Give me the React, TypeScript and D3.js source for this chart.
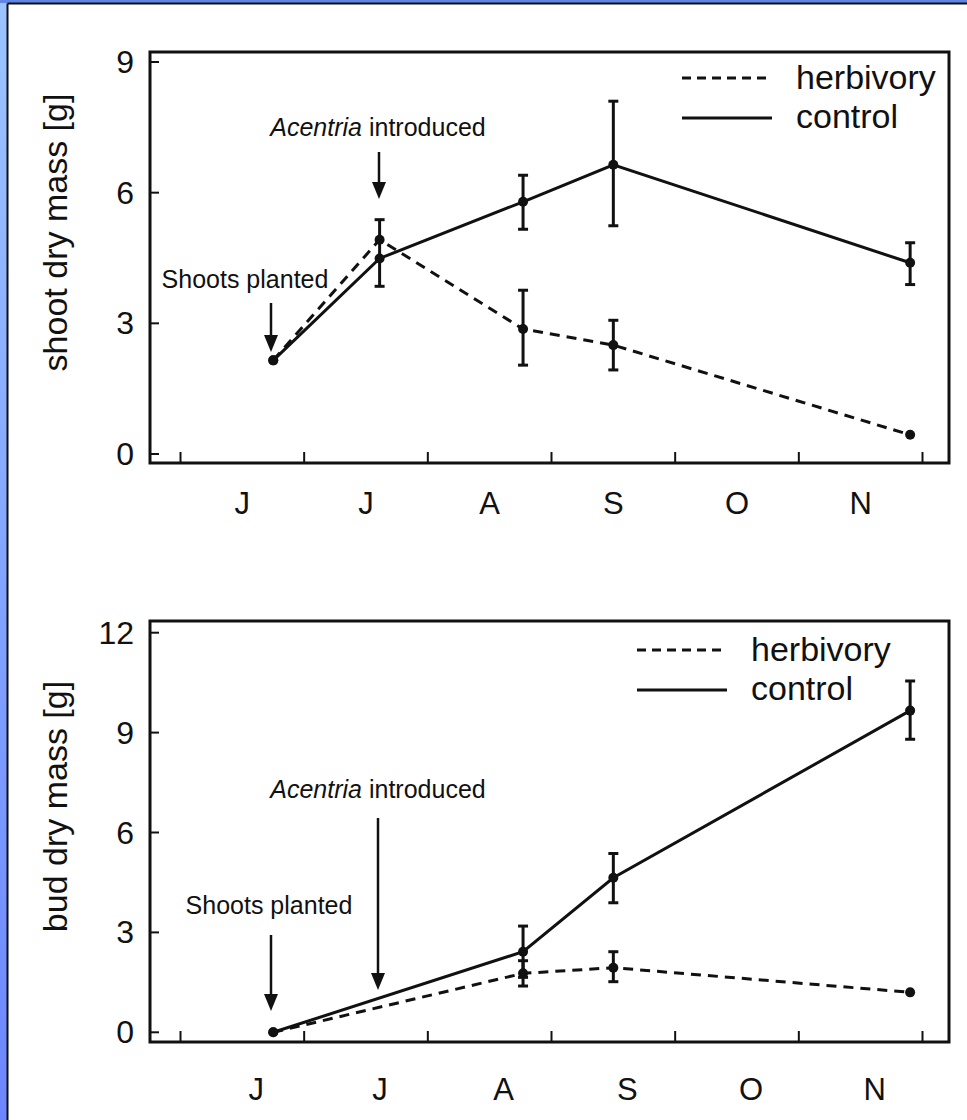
import React from 'react';
import * as d3 from 'd3';

// month labels, placed between the month boundary ticks
const monthLabels = ['J', 'J', 'A', 'S', 'O', 'N'];
const monthTicks = [0, 1, 2, 3, 4, 5, 6];
// sampling dates, in months after 1 June
const sampleMonth = [0.75, 1.61, 2.77, 3.5, 5.9];

const shootHerb = [2.15, 4.92, 2.87, 2.5, 0.44];
const shootHerbLo = [null, null, 2.04, 1.93, null];
const shootHerbHi = [null, null, 3.76, 3.07, null];
const shootCtrl = [2.15, 4.49, 5.79, 6.64, 4.39];
const shootCtrlLo = [null, 3.85, 5.16, 5.24, 3.89];
const shootCtrlHi = [null, 5.38, 6.4, 8.1, 4.85];
const shootTicks = [0, 3, 6, 9];

const budHerb = [0, null, 1.77, 1.94, 1.2];
const budHerbLo = [null, null, 1.39, 1.52, null];
const budHerbHi = [null, null, 2.15, 2.42, null];
const budCtrl = [0, null, 2.42, 4.64, 9.66];
const budCtrlLo = [null, null, 1.65, 3.89, 8.8];
const budCtrlHi = [null, null, 3.19, 5.37, 10.55];
const budTicks = [0, 3, 6, 9, 12];

const FONT = '"Liberation Sans", Arial, Helvetica, sans-serif';
const DASH = '10,7';

const x = d3.scaleLinear().domain([0, 6]).range([180.5, 922.5]);

const Arrow = ({ cx, y0, y1 }) => (
  <g>
    <line x1={cx} x2={cx} y1={y0} y2={y1 - 14} stroke="#111" strokeWidth={2.5} />
    <path d={`M${cx - 7},${y1 - 17}L${cx + 7},${y1 - 17}L${cx},${y1}Z`} fill="#111" />
  </g>
);

const ErrorBars = ({ lo, hi, y }) => (
  <g stroke="#111" strokeWidth={3}>
    {sampleMonth.map((m, i) => {
      if (lo[i] == null) return null;
      const cx = x(m);
      return (
        <g key={i}>
          <line x1={cx} x2={cx} y1={y(lo[i])} y2={y(hi[i])} />
          <line x1={cx - 5} x2={cx + 5} y1={y(lo[i])} y2={y(lo[i])} />
          <line x1={cx - 5} x2={cx + 5} y1={y(hi[i])} y2={y(hi[i])} />
        </g>
      );
    })}
  </g>
);

const Panel = ({ y, box, ticks, herb, herbLo, herbHi, ctrl, ctrlLo, ctrlHi, title, labelY, labelDx, legendY, shoots, acentria }) => {
  const pts = (vals) =>
    sampleMonth.map((m, i) => [m, vals[i]]).filter((d) => d[1] != null);
  const line = d3
    .line()
    .x((d) => x(d[0]))
    .y((d) => y(d[1]));
  const [top, bottom] = box;
  return (
    <g>
      {/* y ticks */}
      {ticks.map((t) => (
        <g key={t}>
          <line x1={150} x2={159} y1={y(t)} y2={y(t)} stroke="#111" strokeWidth={2} />
          <text x={134} y={y(t) + 11} textAnchor="end" fontSize={32} fill="#111">
            {t}
          </text>
        </g>
      ))}
      {/* x ticks */}
      {monthTicks.map((t) => (
        <line key={t} x1={x(t)} x2={x(t)} y1={bottom} y2={bottom - 11} stroke="#111" strokeWidth={2} />
      ))}
      {monthLabels.map((l, i) => (
        <text key={i} x={x(i + 0.5) + labelDx} y={labelY} textAnchor="middle" fontSize={31} fill="#111">
          {l}
        </text>
      ))}
      <rect x={150} y={top} width={799} height={bottom - top} fill="none" stroke="#111" strokeWidth={3} />
      <text
        transform={`translate(67,${(top + bottom) / 2 - 25}) rotate(-90)`}
        textAnchor="middle"
        fontSize={34}
        fill="#111"
      >
        {title}
      </text>

      {/* annotations */}
      <text x={shoots.tx} y={shoots.ty} textAnchor="middle" fontSize={25} fill="#111">
        Shoots planted
      </text>
      <Arrow cx={shoots.ax} y0={shoots.a0} y1={shoots.a1} />
      <text x={acentria.tx} y={acentria.ty} textAnchor="middle" fontSize={25} fill="#111">
        <tspan fontStyle="italic">Acentria</tspan> introduced
      </text>
      <Arrow cx={acentria.ax} y0={acentria.a0} y1={acentria.a1} />

      {/* series */}
      <ErrorBars lo={herbLo} hi={herbHi} y={y} />
      <ErrorBars lo={ctrlLo} hi={ctrlHi} y={y} />
      <path d={line(pts(herb))} fill="none" stroke="#111" strokeWidth={3} strokeDasharray={DASH} />
      <path d={line(pts(ctrl))} fill="none" stroke="#111" strokeWidth={3} />
      {pts(herb).map((d, i) => (
        <circle key={'h' + i} cx={x(d[0])} cy={y(d[1])} r={5} fill="#111" />
      ))}
      {pts(ctrl).map((d, i) => (
        <circle key={'c' + i} cx={x(d[0])} cy={y(d[1])} r={5} fill="#111" />
      ))}

      {/* legend */}
      <line x1={legendY.x0} x2={legendY.x0 + 90} y1={legendY.y} y2={legendY.y} stroke="#111" strokeWidth={3} strokeDasharray="9,6" />
      <text x={legendY.x0 + 114} y={legendY.y + 11} fontSize={34} fill="#111">
        herbivory
      </text>
      <line x1={legendY.x0} x2={legendY.x0 + 90} y1={legendY.y + 40} y2={legendY.y + 40} stroke="#111" strokeWidth={3} />
      <text x={legendY.x0 + 114} y={legendY.y + 50} fontSize={34} fill="#111">
        control
      </text>
    </g>
  );
};

export default function App() {
  const yShoot = d3.scaleLinear().domain([0, 9]).range([454, 62]);
  const yBud = d3.scaleLinear().domain([0, 12]).range([1032.3, 632.7]);

  return (
    <div style={{ position: 'absolute', left: 0, top: 0 }}>
      <svg width={967} height={1120} style={{ display: 'block', fontFamily: FONT }}>
        <defs>
          <linearGradient id="frame" x1="0" y1="0" x2="0" y2="1">
            <stop offset="0" stopColor="#9cc4ff" />
            <stop offset="1" stopColor="#6c86ff" />
          </linearGradient>
        </defs>
        <rect x={0} y={0} width={967} height={1120} fill="url(#frame)" />
        <rect x={0} y={0} width={967} height={3} fill="#5f86e4" />
        <rect x={8} y={4} width={959} height={1116} fill="#fff" />
        <line x1={7.5} x2={7.5} y1={3.5} y2={1120} stroke="#111" strokeWidth={2} />
        <line x1={7.5} x2={967} y1={3.5} y2={3.5} stroke="#111" strokeWidth={2} />

        <Panel
          y={yShoot}
          box={[52, 463]}
          ticks={shootTicks}
          herb={shootHerb}
          herbLo={shootHerbLo}
          herbHi={shootHerbHi}
          ctrl={shootCtrl}
          ctrlLo={shootCtrlLo}
          ctrlHi={shootCtrlHi}
          title="shoot dry mass [g]"
          labelY={514}
          labelDx={0}
          legendY={{ x0: 682, y: 78 }}
          shoots={{ tx: 245, ty: 288, ax: 271, a0: 303, a1: 352 }}
          acentria={{ tx: 378, ty: 136, ax: 379, a0: 152, a1: 199 }}
        />
        <Panel
          y={yBud}
          box={[621, 1042]}
          ticks={budTicks}
          herb={budHerb}
          herbLo={budHerbLo}
          herbHi={budHerbHi}
          ctrl={budCtrl}
          ctrlLo={budCtrlLo}
          ctrlHi={budCtrlHi}
          title="bud dry mass [g]"
          labelY={1100}
          labelDx={14}
          legendY={{ x0: 637, y: 650 }}
          shoots={{ tx: 269, ty: 914, ax: 271, a0: 935, a1: 1011 }}
          acentria={{ tx: 378, ty: 798, ax: 378, a0: 818, a1: 990 }}
        />
      </svg>
    </div>
  );
}
